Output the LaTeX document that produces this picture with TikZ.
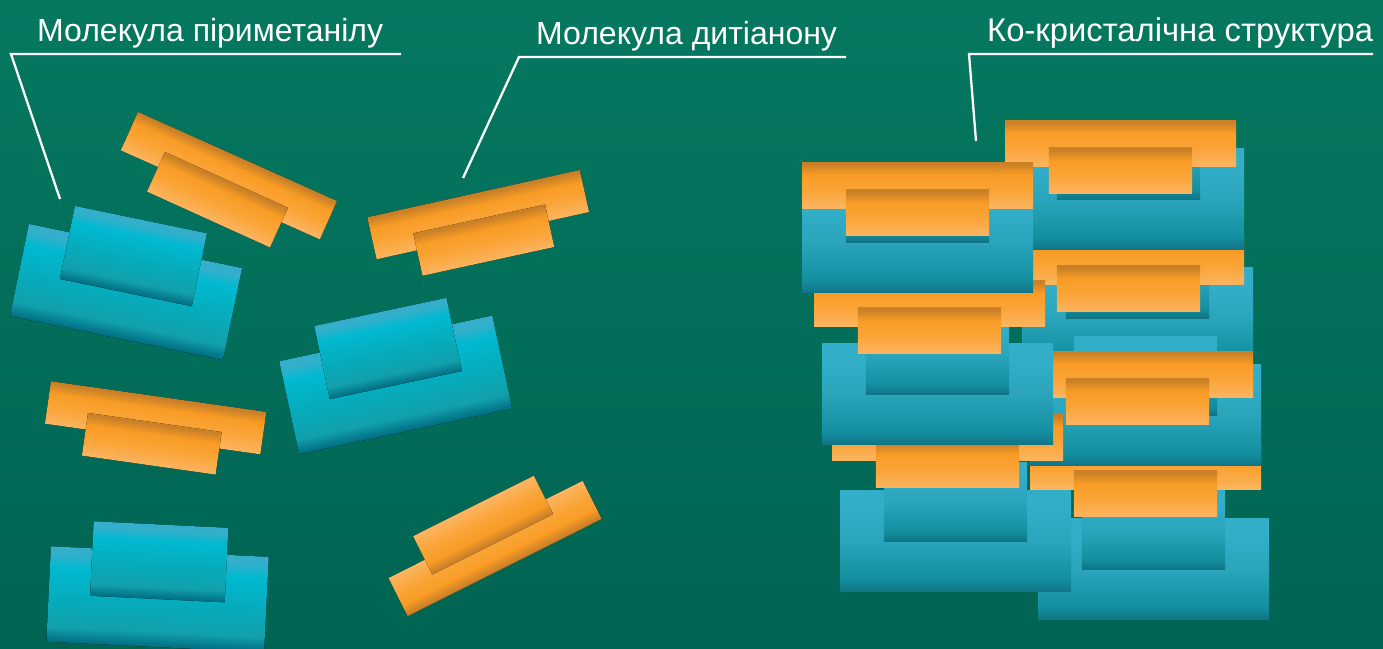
\documentclass[tikz,border=0pt]{standalone}
\usepackage{fontspec}
\setmainfont{Liberation Sans}
\definecolor{bgtop}{HTML}{057860}
\definecolor{bgbot}{HTML}{006452}
\definecolor{oa}{HTML}{C98027}
\definecolor{ob}{HTML}{F99C25}
\definecolor{oc}{HTML}{FAA437}
\definecolor{od}{HTML}{FBB561}
\definecolor{ta}{HTML}{33AEC9}
\definecolor{tb}{HTML}{2AA5BB}
\definecolor{tc}{HTML}{138FA0}
\definecolor{td}{HTML}{107485}
\definecolor{ca}{HTML}{33AFCB}
\definecolor{cb}{HTML}{00B9D0}
\definecolor{cc}{HTML}{08A9B8}
\definecolor{cd}{HTML}{12A0AC}
\definecolor{ce}{HTML}{006C80}
% the central 50bp of a shading covers the box: 25bp = bottom, 75bp = top
\pgfdeclareverticalshading{bgS}{100bp}{color(0bp)=(bgbot); color(25bp)=(bgbot); color(75bp)=(bgtop); color(100bp)=(bgtop)}
\pgfdeclareverticalshading{orS}{100bp}{color(0bp)=(od); color(25bp)=(od); color(45bp)=(oc); color(61bp)=(ob); color(73bp)=(oa); color(75bp)=(oa); color(100bp)=(oa)}
\pgfdeclareverticalshading{teS}{100bp}{color(0bp)=(td); color(25bp)=(td); color(31bp)=(tc); color(50bp)=(tb); color(66bp)=(ta); color(75bp)=(ta); color(100bp)=(ta)}
\pgfdeclareverticalshading{cyS}{100bp}{color(0bp)=(ce); color(25bp)=(ce); color(33bp)=(cd); color(45bp)=(cc); color(64bp)=(cb); color(71bp)=(ca); color(75bp)=(ca); color(100bp)=(ca)}
\newcommand{\mrect}[6]{\begin{scope}[transform canvas={shift={(#1,#2)},rotate=#3}]\fill[shading=#6] (0,0) rectangle (#4,#5);\end{scope}}
\newcommand{\tealM}[2]{%
  \mrect{#1}{#2}{0}{231}{101.3}{teS}%
  \pgfmathsetmacro{\sx}{#1+43.8}\pgfmathsetmacro{\sy}{#2-28}%
  \mrect{\sx}{\sy}{0}{143.4}{79}{teS}}
\newcommand{\orM}[2]{%
  \mrect{#1}{#2}{0}{231}{46.3}{orS}%
  \pgfmathsetmacro{\sx}{#1+43.8}\pgfmathsetmacro{\sy}{#2+27.8}%
  \mrect{\sx}{\sy}{0}{143.4}{46}{orS}}
\tikzset{
  lbl/.style={anchor=base west,inner sep=0pt,text=white,font=\fontsize{32}{38}\selectfont},
  lblwide/.style={lbl,font=\fontsize{32.8}{38}\selectfont},
  leader/.style={draw=white,line width=2.3pt,miter limit=10}
}
\begin{document}
\begin{tikzpicture}[x=1pt,y=-1pt]
\useasboundingbox (0,0) rectangle (1383,648);
\fill[shading=bgS] (0,0) rectangle (1383,648);
% free molecules
\mrect{138}{112}{-24.1}{218}{42}{orS}
\mrect{165}{152}{-24.4}{135}{43.5}{orS}
\mrect{29}{224}{-11.7}{217.5}{94}{cyS}
\mrect{75}{206}{-11.7}{134.7}{74.5}{cyS}
\mrect{367.3}{217.3}{12.55}{217.6}{43}{orS}
\mrect{413.3}{233.3}{12.3}{134.8}{43.4}{orS}
\mrect{279.3}{361.3}{12.1}{217.8}{95}{cyS}
\mrect{314.3}{326}{12}{135}{74.7}{cyS}
\mrect{51}{381.3}{-8.1}{217.5}{42.8}{orS}
\mrect{88}{413}{-8.1}{135}{43}{orS}
\mrect{51}{546.3}{-2.8}{218}{95.5}{cyS}
\mrect{93.7}{521.3}{-2.8}{134.8}{74.5}{cyS}
\mrect{601.7}{519}{206.6}{217}{42.7}{orS}
\mrect{553}{514}{206.6}{135}{42.8}{orS}
% co-crystal stack
\tealM{1038}{518}\orM{1030}{443}
\tealM{1022}{267}\orM{1013}{238}
\tealM{1013}{148}\orM{1005}{120}
\tealM{1030}{364}\orM{1022}{351}
\tealM{840}{490}\orM{832}{414}
\tealM{822}{343}\orM{814}{280}
\tealM{802}{191}\orM{802}{162}
% labels
\node[lbl] (lblA) at (37,41) {Молекула піриметанілу};
\node[lbl] (lblB) at (536,44) {Молекула дитіанону};
\node[lblwide] (lblC) at (987,41) {Ко-кристалічна структура};
% leaders
\coordinate (a1) at (401,54); \coordinate (a2) at (11,54); \coordinate (a3) at (60,199);
\coordinate (b1) at (846,57); \coordinate (b2) at (519,57); \coordinate (b3) at (463,178);
\coordinate (c1) at (1373,54); \coordinate (c2) at (969,54); \coordinate (c3) at (976,141);
\draw[leader] (a1) -- (a2) -- (a3);
\draw[leader] (b1) -- (b2) -- (b3);
\draw[leader] (c1) -- (c2) -- (c3);
\end{tikzpicture}
\end{document}
